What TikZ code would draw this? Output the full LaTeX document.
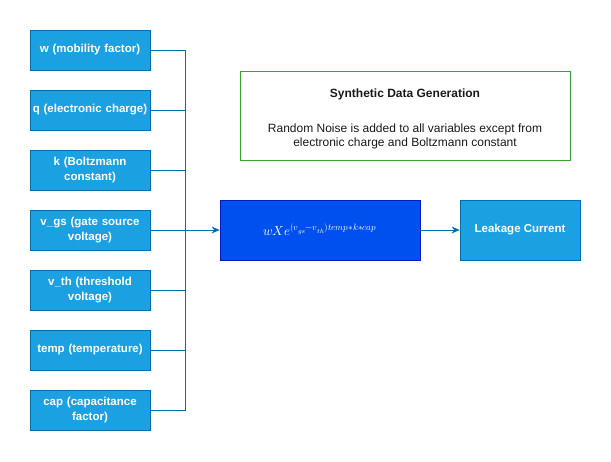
\documentclass[tikz,border=0pt]{standalone}
\usepackage{fontspec}
\setmainfont{Liberation Sans}
\usepackage{unicode-math}
\setmathfont{Latin Modern Math}
\usetikzlibrary{arrows.meta}
\definecolor{inblue}{HTML}{1BA1E2}
\definecolor{inline}{HTML}{006EAF}
\definecolor{fblue}{HTML}{0050EF}
\definecolor{fline}{HTML}{001DBC}
\definecolor{gline}{HTML}{33A52C}
\definecolor{txt}{HTML}{1A1A1A}
\tikzset{
  boxbase/.style={draw=inline, fill=inblue, text=white, minimum width=120pt, minimum height=40pt,
    inner sep=1pt, align=center, font=\fontsize{11.5}{15}\selectfont\bfseries, line width=0.8pt},
  varbox/.style={boxbase, text width=118pt},
  conn/.style={draw=inline, line width=0.8pt},
  arr/.style={conn, -{Stealth[length=8pt,width=7pt]}},
}
\begin{document}
\begin{tikzpicture}[x=1pt,y=-1pt]
\useasboundingbox (0,0) rectangle (611,462);
\node[varbox] (b1) at (90,50) {w (mobility factor)};
\node[varbox] (b2) at (90,110) {q (electronic charge)};
\node[varbox] (b3) at (90,170) {k (Boltzmann\\constant)};
\node[varbox] (b4) at (90,230) {v\_gs (gate source\\voltage)};
\node[varbox] (b5) at (90,290) {v\_th (threshold\\voltage)};
\node[varbox] (b6) at (90,350) {temp (temperature)};
\node[varbox] (b7) at (90,410) {cap (capacitance\\factor)};
\node[draw=fline, fill=fblue, text=white, minimum width=200pt, minimum height=60pt, line width=0.8pt,
  font=\fontsize{13}{15}\selectfont] (f) at (320,230) {$wXe^{(v_{gs}-v_{th})temp*k*cap}$};
\node[boxbase, minimum height=60pt] (lc) at (520,230) {Leakage Current};
\node[draw=gline, line width=0.8pt, minimum width=330pt, minimum height=89pt] (g) at (405,115.5) {};
\node[font=\fontsize{12}{14}\selectfont\bfseries, text=txt] (gt) at (405,94.5) {Synthetic Data Generation};
\node[font=\fontsize{12}{14.5}\selectfont, text=txt, align=center] (gb) at (405,136.5)
  {Random Noise is added to all variables except from\\electronic charge and Boltzmann constant};
\coordinate (j) at (185,230);
\foreach \b in {b1,b2,b3,b5,b6,b7} { \draw[conn] (\b.east) -| (j); }
\draw[arr] (b4.east) -- (f.west);
\draw[arr] (f.east) -- (lc.west);
\end{tikzpicture}
\end{document}
